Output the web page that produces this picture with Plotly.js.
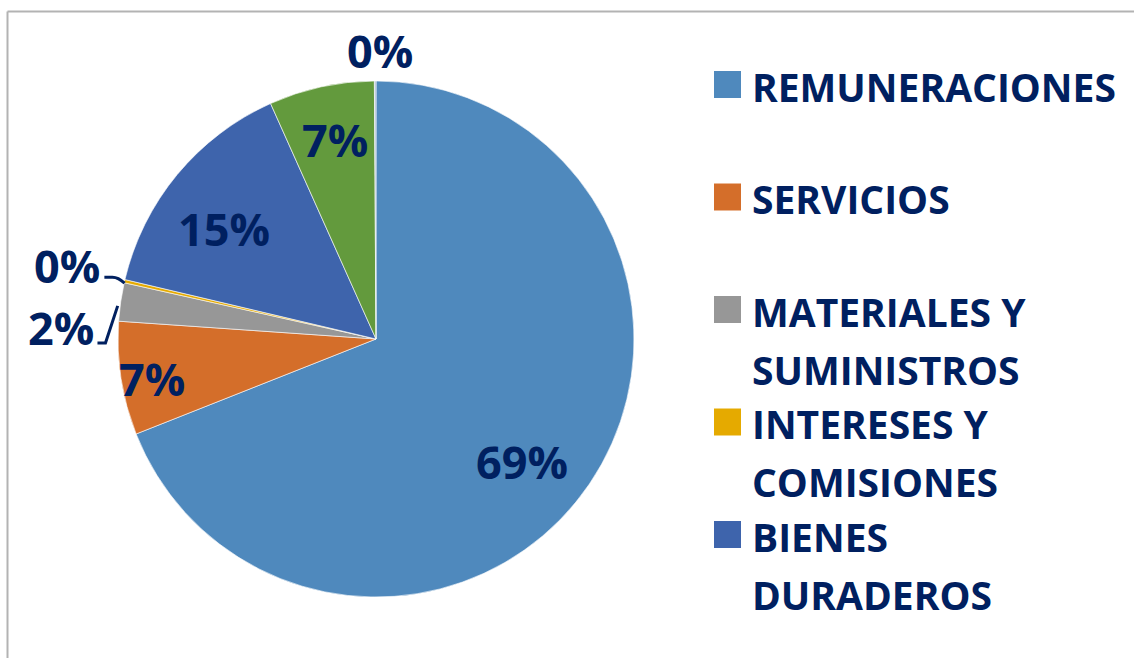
<!DOCTYPE html>
<html>
<head>
<meta charset="utf-8">
<script src="https://cdn.plot.ly/plotly-3.0.1.min.js"></script>
<style>
html,body{margin:0;padding:0;background:#fff;}
#chart{width:1134px;height:658px;}
</style>
</head>
<body>
<div id="chart"></div>
<script>
// ---- data ----
const categories = [
  "REMUNERACIONES",
  "SERVICIOS",
  "MATERIALES Y SUMINISTROS",
  "INTERESES Y COMISIONES",
  "BIENES DURADEROS",
  "OBRAS PÚBLICAS",
  "OTROS GASTOS"
];
const values = [69.0, 7.1, 2.4, 0.2, 14.6, 6.6, 0.1];
const colors = ["#4F89BD", "#D46E2A", "#979797", "#E5AA00", "#3E64AC", "#639A3D", "#A9BBD2"];
// legend lines as shown (only first five visible in the reference)
const legendLines = [
  ["REMUNERACIONES"],
  ["SERVICIOS"],
  ["MATERIALES Y", "SUMINISTROS"],
  ["INTERESES Y", "COMISIONES"],
  ["BIENES", "DURADEROS"]
];

// ---- style: label placement (angle offset from slice middle in degrees, radius as fraction) ----
const labelAngleOffset = [5.9, -1.1, -6.1, 0.5, -3.6, 0.6, 1.0];
const labelRadius = [0.74, 0.88, 1.22, 1.23, 0.73, 0.79, 1.12];
const labelLeader = [false, false, "bracket", "hook", false, false, false];

const W = 1134, H = 658;
const CX = 376, CY = 339, R = 258;
const navy = "#002060";
const font = "'Open Sans', Lato, sans-serif";

const trace = {
  type: "pie",
  labels: categories,
  values: values,
  sort: false,
  direction: "clockwise",
  rotation: 0,
  marker: {colors: colors, line: {color: "#ffffff", width: 0.6}},
  textinfo: "none",
  domain: {x: [(CX - R) / W, (CX + R) / W], y: [1 - (CY + R) / H, 1 - (CY - R) / H]},
  showlegend: false,
  hoverinfo: "label+percent"
};

const px = x => x / W;
const py = y => 1 - y / H;
function polar(thetaDeg, rf) {
  const t = thetaDeg * Math.PI / 180;
  return [CX + rf * R * Math.sin(t), CY - rf * R * Math.cos(t)];
}

const shapes = [
  {type: "line", xref: "paper", yref: "paper", x0: px(7.5), x1: 1, y0: py(11.5), y1: py(11.5), line: {color: "#b3b3b3", width: 2}},
  {type: "line", xref: "paper", yref: "paper", x0: px(7.5), x1: px(7.5), y0: 0, y1: py(11.5), line: {color: "#b3b3b3", width: 2}}
];
const annotations = [];

// percentage labels derived from the values
const total = values.reduce((a, b) => a + b, 0);
let cum = 0;
values.forEach((v, i) => {
  const mid = (cum + v / 2) / total * 360;
  cum += v;
  const [lx, ly] = polar(mid + labelAngleOffset[i], labelRadius[i]);
  annotations.push({
    xref: "paper", yref: "paper", x: px(lx), y: py(ly),
    xanchor: "center", yanchor: "middle", showarrow: false,
    text: Math.round(v / total * 100) + "%",
    font: {family: font, size: 45, color: navy, weight: "bold"}
  });
  if (labelLeader[i]) {
    const [ex, ey] = polar(mid, 1.0);
    const tx = lx + 37;
    let path;
    if (labelLeader[i] === "hook") {
      path = `M ${px(tx)},${py(ly + 12)} L ${px(tx + 8)},${py(ly + 12)} Q ${px(tx + 14)},${py(ly + 12)} ${px(ex)},${py(ey + 2)}`;
    } else {
      path = `M ${px(tx - 1)},${py(ly + 16)} L ${px(tx + 7)},${py(ly + 16)} L ${px(ex - 3)},${py(ey + 4)}`;
    }
    shapes.push({type: "path", xref: "paper", yref: "paper", path: path, line: {color: navy, width: 3}});
  }
});

// manual legend (only the visible entries)
const entryTop = 84.5, entryStep = 112.5, lineStep = 58;
legendLines.forEach((lines, i) => {
  const cy = entryTop + i * entryStep;
  shapes.push({
    type: "rect", xref: "paper", yref: "paper",
    x0: px(714), x1: px(741), y0: py(cy + 13.5), y1: py(cy - 13.5),
    fillcolor: colors[i], line: {width: 0}
  });
  lines.forEach((t, j) => {
    annotations.push({
      xref: "paper", yref: "paper", x: px(750), y: py(cy + 1.5 + j * lineStep),
      xanchor: "left", yanchor: "middle", showarrow: false, text: t,
      font: {family: font, size: 39, color: navy, weight: "bold"}
    });
  });
});

const layout = {
  width: W, height: H,
  margin: {l: 0, r: 0, t: 0, b: 0},
  paper_bgcolor: "#ffffff",
  plot_bgcolor: "#ffffff",
  showlegend: false,
  shapes: shapes,
  annotations: annotations
};

Plotly.newPlot("chart", [trace], layout, {displayModeBar: false, staticPlot: true});
</script>
</body>
</html>
